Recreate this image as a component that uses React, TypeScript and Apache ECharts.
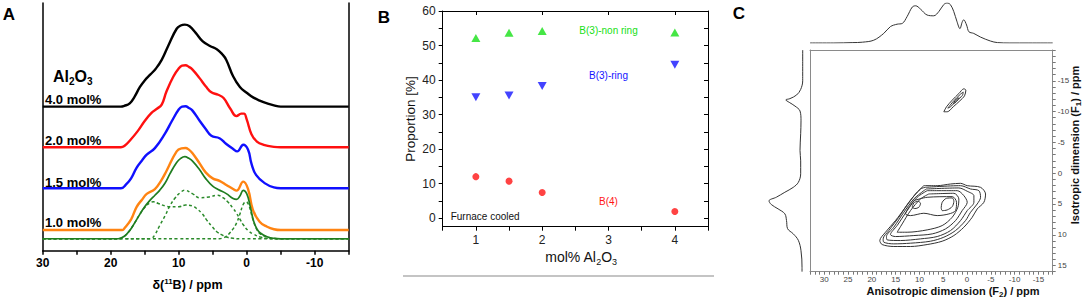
import React, { useEffect, useRef } from "react";
import * as echarts from "echarts";

const FONT = "'Liberation Sans', Arial, Helvetica, sans-serif";

// ---------- Panel A: 11B MAS spectra, [ppm, normalised intensity] ----------
const A_SPEC_40 = [[30,0],[26,0],[22,0],[20,0],[19,0],[18.5,0],[18,0.01],[17.2,0.04],[16.5,0.12],[15.7,0.24],[15,0.32],[14.2,0.39],[13.4,0.46],[12.5,0.57],[11.5,0.75],[10.3,0.95],[9.7,0.99],[9.1,1.0],[8.4,0.98],[7.5,0.9],[6.5,0.8],[5.4,0.74],[4.4,0.7],[3.6,0.64],[3,0.57],[2,0.37],[1,0.24],[0,0.17],[-1,0.11],[-2,0.07],[-3,0.04],[-4,0.015],[-5,0],[-6,0],[-8,0],[-11,0],[-15,0]];
const A_SPEC_20 = [[30,0],[26,0],[22,0],[20,0],[19,0],[18.5,0],[18,0.015],[17.2,0.08],[16,0.2],[15,0.32],[14,0.42],[13.2,0.47],[12.5,0.52],[11.8,0.68],[10.8,0.86],[10,0.96],[9.5,0.995],[9.0,1.0],[8.5,0.98],[8,0.95],[6.9,0.84],[6,0.74],[5.2,0.67],[4.2,0.64],[3.4,0.6],[2.4,0.47],[1.5,0.38],[0.8,0.41],[0.4,0.41],[0,0.34],[-0.7,0.16],[-1.5,0.07],[-2.5,0.03],[-4,0.005],[-5,0],[-6,0],[-8,0],[-11,0],[-15,0]];
const A_SPEC_15 = [[30,0],[26,0],[22,0],[20,0],[19,0],[18.5,0],[17.7,0.05],[17,0.12],[16.2,0.25],[15.4,0.34],[14.7,0.41],[13.5,0.49],[12,0.67],[11,0.82],[10,0.96],[9.5,0.995],[9.0,1.0],[8.5,0.98],[8,0.95],[6.9,0.82],[6,0.72],[5.2,0.64],[4,0.61],[3,0.54],[2,0.48],[1.4,0.45],[0.5,0.53],[-0.2,0.47],[-0.7,0.3],[-1.4,0.16],[-2.7,0.06],[-4,0.01],[-5,0],[-6,0],[-8,0],[-11,0],[-15,0]];
const A_SPEC_10 = [[30,0],[26,0],[22,0],[20,0],[19,0],[18.3,0],[17.9,0.03],[17,0.13],[16.2,0.28],[15.4,0.37],[14.7,0.44],[13.5,0.5],[12.6,0.6],[11.8,0.72],[10.3,0.96],[9.6,0.995],[9.0,1.0],[8.5,0.98],[8,0.94],[6.9,0.81],[6,0.7],[5,0.63],[4,0.6],[3,0.55],[2,0.5],[1.5,0.48],[0.5,0.59],[-0.2,0.5],[-0.9,0.25],[-1.9,0.1],[-3,0.04],[-4,0.01],[-5,0],[-6,0],[-8,0],[-11,0],[-15,0]];
const A_FIT_SUM = [[30,0],[26,0],[22,0],[20,0],[19.4,0],[18.9,0],[18,0.03],[17.2,0.1],[16.5,0.19],[15.7,0.3],[15,0.39],[14.2,0.47],[13.5,0.53],[12.8,0.59],[12,0.68],[11.3,0.79],[10.3,0.93],[9.7,0.98],[9.1,1.0],[8.5,0.98],[8,0.95],[7,0.85],[6,0.73],[5,0.64],[4.2,0.6],[3,0.55],[2,0.49],[1.5,0.48],[1,0.52],[0.5,0.59],[0,0.55],[-0.5,0.4],[-1,0.22],[-1.5,0.12],[-2,0.07],[-3,0.025],[-4,0.005],[-5,0],[-6,0],[-8,0],[-11,0],[-15,0]];
const A_FIT_RING = [[30,0],[26,0],[22,0],[20,0],[19.4,0],[18.9,0],[18,0.03],[17.2,0.1],[16.5,0.19],[15.7,0.3],[15,0.38],[14.2,0.44],[13.7,0.45],[13,0.43],[12,0.4],[11.3,0.39],[10,0.39],[9,0.41],[8,0.4],[7.4,0.37],[6.5,0.3],[5.9,0.23],[5,0.14],[4.4,0.085],[3.5,0.04],[3,0.02],[2,0.005],[1,0],[0,0],[-2,0],[-5,0],[-8,0],[-11,0],[-15,0]];
const A_FIT_NONRING = [[30,0],[26,0],[22,0],[18,0],[16,0],[15,0],[14.4,0],[14,0.005],[13.5,0.05],[12.8,0.16],[12,0.28],[11.3,0.4],[10.5,0.5],[9.8,0.56],[9.1,0.59],[8,0.55],[6.9,0.5],[5.5,0.51],[4.3,0.53],[3.5,0.5],[2.8,0.45],[2,0.37],[1.5,0.31],[1,0.24],[0.5,0.17],[-0.2,0.1],[-0.9,0.06],[-2,0.02],[-3,0.005],[-4,0],[-5,0],[-8,0],[-11,0],[-15,0]];
const A_FIT_B4 = [[30,0],[26,0],[22,0],[18,0],[14,0],[10,0],[7,0],[5.5,0],[4.5,0],[4,0],[3.5,0.01],[3,0.03],[2.5,0.07],[2,0.12],[1.5,0.19],[1,0.3],[0.5,0.42],[0.1,0.45],[-0.3,0.41],[-0.9,0.24],[-1.5,0.11],[-2,0.06],[-3,0.02],[-4,0.005],[-5,0],[-6,0],[-8,0],[-11,0],[-15,0]];
// vertical stacking offsets of the traces (same units as intensity)
const A_OFFSETS = [1.756, 1.261, 0.761, 0.252, 0.146]; // 4.0, 2.0, 1.5, 1.0 mol%, fit
const A_LABELS = ["4.0 mol%", "2.0 mol%", "1.5 mol%", "1.0 mol%"];

// ---------- Panel B: proportions ----------
const B_X = [1, 1.5, 2, 4];
const B_NONRING = [52.2, 53.7, 54.2, 53.8];
const B_RING = [35.0, 35.5, 38.3, 44.4];
const B_B4 = [12.0, 10.7, 7.4, 1.9];
const B_Y_LABELS = [0, 10, 20, 30, 40, 50, 60];
const B_Y_TICKS = [0, 5, 10, 15, 20, 25, 30, 35, 40, 45, 50, 55, 60];
const B_X_TOP_TICKS = [1, 2, 3, 4];
const B_NOTES = [
  { text: "B(3)-non ring", x: 3.0, y: 54.3 },
  { text: "B(3)-ring", x: 3.0, y: 41.2 },
  { text: "B(4)", x: 3.0, y: 4.7 },
  { text: "Furnace cooled", x: 1.14, y: 0.6 },
];

// ---------- Panel C: MQMAS, [F2 ppm, F1 ppm] contours ----------
const C_CONT_1 = [[9.08,2.03],[6.27,2.03],[3.47,1.76],[1.37,1.65],[-0.04,2.03],[-2.84,2.3],[-3.89,3.38],[-3.54,4.73],[-2.14,5.81],[-1.09,7.16],[0.67,8.78],[2.77,10.13],[5.22,11.05],[8.38,11.59],[11.88,11.91],[15.39,11.91],[17.84,11.59],[18.33,10.94],[17.14,9.59],[15.04,7.7],[12.93,5.54],[10.83,3.38]];
const C_CONT_2 = [[8.73,2.3],[1.37,2.03],[-0.74,2.57],[-2.49,2.84],[-2.84,3.92],[-2.14,5.0],[-0.74,6.35],[0.32,7.7],[2.42,9.32],[4.87,10.4],[7.68,11.05],[11.88,11.37],[15.39,11.48],[17.49,11.21],[17.63,10.67],[16.44,9.32],[14.34,7.16],[12.23,4.73],[9.78,2.57]];
const C_CONT_3 = [[8.52,2.57],[1.72,2.4],[-0.04,2.94],[-1.44,3.65],[-1.44,4.73],[-0.04,6.08],[1.37,7.7],[3.47,9.32],[6.27,10.29],[9.78,10.67],[13.99,10.94],[16.79,10.83],[16.93,10.29],[15.39,8.78],[13.28,6.35],[11.18,4.19],[9.08,2.84]];
const C_CONT_4 = [[8.38,2.84],[2.07,2.84],[0.67,3.65],[-0.04,4.73],[1.02,6.08],[2.42,7.7],[4.52,9.05],[7.32,9.86],[11.18,10.13],[15.04,10.29],[16.09,9.97],[14.69,8.51],[12.58,6.08],[10.48,3.92]];
const C_CONT_5 = [[8.03,3.38],[2.77,3.27],[1.72,4.19],[1.93,5.54],[3.12,7.16],[5.22,8.51],[8.38,9.21],[12.58,9.59],[14.69,9.59],[13.63,8.24],[11.88,6.08],[9.78,4.19]];
const C_CONT_6 = [[11.18,4.46],[8.38,3.92],[3.12,3.81],[2.21,4.73],[2.42,6.08],[3.82,6.62],[6.27,6.89],[9.08,6.51],[11.88,6.89],[12.93,6.62],[12.23,5.54]];
const C_ISLAND_1 = [[11.53,5.54],[11.18,4.83],[10.34,4.57],[9.78,4.89],[10.13,5.54],[10.97,5.75]];
const C_ISLAND_2 = [[5.43,5.65],[5.22,4.73],[4.31,4.08],[3.12,4.02],[2.77,4.57],[3.12,5.43],[4.17,5.97],[5.22,6.08]];
const C_SMALL_1 = [[4.88,-9.97],[4.31,-10.78],[3.11,-11.86],[1.72,-12.93],[0.67,-13.7],[0.25,-13.48],[0.53,-12.56],[1.51,-11.75],[2.9,-10.78],[4.16,-9.97]];
const C_SMALL_2 = [[4.04,-10.56],[2.78,-11.75],[1.37,-12.83],[0.8,-13.16],[1.0,-12.6],[2.06,-11.86],[3.47,-10.78]];
const C_SMALL_3 = [[2.9,-11.3],[1.93,-12.19],[1.64,-12.19],[2.48,-11.43]];
const C_CONTOURS = [C_CONT_1, C_CONT_2, C_CONT_3, C_CONT_4, C_CONT_5, C_CONT_6, C_ISLAND_1, C_ISLAND_2, C_SMALL_1, C_SMALL_2, C_SMALL_3];
// projections
const C_TOP_PROJ = [[33,0],[28,0],[24,0.01],[22,0.02],[19.6,0.07],[17.5,0.24],[16.1,0.41],[14.7,0.47],[13.6,0.49],[12.6,0.66],[11.5,0.9],[10.8,0.93],[9.8,0.85],[8.4,0.7],[7.0,0.68],[5.9,0.79],[4.9,0.96],[4.2,1.0],[3.5,0.96],[2.8,0.79],[2.1,0.53],[1.5,0.36],[1.0,0.53],[0.7,0.58],[0.1,0.45],[-0.4,0.28],[-1.4,0.24],[-2.8,0.15],[-4.9,0.05],[-6.4,0.01],[-9,0],[-13,0],[-18,0]];
const C_LEFT_PROJ = [[0,-20],[0,-15],[0.06,-13.6],[0.18,-12.7],[0.38,-12.1],[0.5,-11.9],[0.4,-11.5],[0.23,-10.9],[0.08,-10.1],[0.05,-8.5],[0.06,-6.4],[0.08,-3.7],[0.06,-2.0],[0.06,0.1],[0.13,1.5],[0.28,2.3],[0.53,3.1],[0.78,3.9],[1.0,4.5],[0.93,5.1],[0.73,5.8],[0.53,6.6],[0.48,7.7],[0.45,9.0],[0.28,9.85],[0.13,10.9],[0.05,12.6],[0.02,15.3],[0.02,16]];

const NOTE_COLORS = ["#16e016", "#1414ff", "#ff1414", "#111"];

function buildOption() {
  const aLine = (data: number[][], off: number, color: string, width: number, dashed = false) => ({
    type: "line",
    xAxisIndex: 0,
    yAxisIndex: 0,
    data: data.map(([p, v]) => [p, off + v]),
    smooth: 0.45,
    symbol: "none",
    silent: true,
    lineStyle: { color, width, type: dashed ? [3, 2.5] : "solid" },
  });
  const green = "#2a8a2a";
  const series: any[] = [
    aLine(A_SPEC_40, A_OFFSETS[0], "#000000", 2.4),
    aLine(A_SPEC_20, A_OFFSETS[1], "#ff1010", 2.4),
    aLine(A_SPEC_15, A_OFFSETS[2], "#1010ff", 2.4),
    aLine(A_SPEC_10, A_OFFSETS[3], "#ff8412", 2.4),
    aLine(A_FIT_RING, A_OFFSETS[4], green, 1.5, true),
    aLine(A_FIT_NONRING, A_OFFSETS[4], green, 1.5, true),
    aLine(A_FIT_B4, A_OFFSETS[4], green, 1.5, true),
    aLine(A_FIT_SUM, A_OFFSETS[4], "#1f7d1f", 1.7),
    {
      type: "scatter", xAxisIndex: 2, yAxisIndex: 2, symbol: "triangle", symbolSize: [9, 8],
      itemStyle: { color: "#16e016" }, data: B_X.map((x, i) => [x, B_NONRING[i]]),
    },
    {
      type: "scatter", xAxisIndex: 2, yAxisIndex: 2, symbol: "triangle", symbolRotate: 180, symbolSize: [9, 8],
      itemStyle: { color: "#1414ff" }, data: B_X.map((x, i) => [x, B_RING[i]]),
    },
    {
      type: "scatter", xAxisIndex: 2, yAxisIndex: 2, symbol: "circle", symbolSize: 7,
      itemStyle: { color: "#ff1414" }, data: B_X.map((x, i) => [x, B_B4[i]]),
    },
    ...C_CONTOURS.map((c) => ({
      type: "line", xAxisIndex: 4, yAxisIndex: 4, data: [...c, c[0]], smooth: 0.3, symbol: "none", silent: true,
      lineStyle: { color: "#333", width: 1 },
    })),
    {
      type: "line", xAxisIndex: 6, yAxisIndex: 6, data: C_TOP_PROJ, smooth: 0.35, symbol: "none", silent: true,
      lineStyle: { color: "#333", width: 1 },
    },
    {
      type: "line", xAxisIndex: 7, yAxisIndex: 7, data: C_LEFT_PROJ, smooth: 0.35, symbol: "none", silent: true,
      lineStyle: { color: "#333", width: 1 },
    },
  ];

  const blk = { color: "#000", width: 1.5 };
  const hidden = { show: false };
  const line = (color: string, width: number) => ({ show: true, onZero: false, lineStyle: { color, width } });
  const xAxis: any[] = [
    // 0: panel A
    {
      gridIndex: 0, type: "value", min: -15, max: 30, interval: 5, inverse: true, position: "bottom",
      axisLine: { show: true, onZero: false, lineStyle: blk }, axisTick: { show: true, length: 4, lineStyle: blk },
      axisLabel: {
        margin: 6, fontSize: 12, fontWeight: "bold", color: "#000", fontFamily: FONT,
        formatter: (v: number) => (v % 10 === 0 ? String(v) : ""),
      },
      splitLine: hidden,
    },
    // 1: panel A (unused spare)
    { gridIndex: 0, type: "value", min: -15, max: 30, inverse: true, show: false },
    // 2: panel B bottom
    {
      gridIndex: 1, type: "value", min: 0.5, max: 4.5, interval: 0.5, position: "bottom",
      axisLine: line("#000", 1),
      axisTick: { show: true, length: 4, lineStyle: { color: "#000" } },
      axisLabel: {
        margin: 7, fontSize: 12, color: "#222", fontFamily: FONT,
        formatter: (v: number) => (Number.isInteger(v) ? String(v) : ""),
      },
      splitLine: hidden,
    },
    // 3: panel B top
    {
      gridIndex: 1, type: "value", min: 0.5, max: 4.5, position: "top",
      axisLine: line("#000", 1),
      axisTick: { show: true, inside: true, length: 4, customValues: B_X_TOP_TICKS, lineStyle: { color: "#000" } },
      axisLabel: { show: false }, splitLine: hidden,
    },
    // 4: panel C bottom
    {
      gridIndex: 2, type: "value", min: -18, max: 33, interval: 1, inverse: true, position: "bottom",
      axisLine: line("#8a8a8a", 1),
      axisTick: { show: true, length: 3, lineStyle: { color: "#777" } },
      axisLabel: {
        margin: 4, fontSize: 8, color: "#444", fontFamily: FONT,
        formatter: (v: number) => (v % 5 === 0 && v >= -15 && v <= 30 ? String(v) : ""),
      },
      splitLine: hidden,
    },
    // 5: panel C top
    {
      gridIndex: 2, type: "value", min: -18, max: 33, inverse: true, position: "top",
      axisLine: line("#8a8a8a", 1),
      axisTick: hidden, axisLabel: hidden, splitLine: hidden,
    },
    // 6: C top projection
    { gridIndex: 3, type: "value", min: -18, max: 33, inverse: true, show: false },
    // 7: C left projection
    { gridIndex: 4, type: "value", min: 0, max: 1, inverse: true, show: false },
  ];

  const yAxis: any[] = [
    {
      gridIndex: 0, type: "value", min: 0, max: 3.02, position: "left",
      axisLine: { show: true, onZero: false, lineStyle: blk }, axisTick: hidden, axisLabel: hidden, splitLine: hidden,
    },
    {
      gridIndex: 0, type: "value", min: 0, max: 3.02, position: "right",
      axisLine: { show: true, onZero: false, lineStyle: blk }, axisTick: hidden, axisLabel: hidden, splitLine: hidden,
    },
    {
      gridIndex: 1, type: "value", min: -2.5, max: 60, position: "left",
      axisLine: line("#000", 1),
      axisTick: { show: true, length: 4, customValues: B_Y_TICKS, lineStyle: { color: "#000" } },
      axisLabel: { customValues: B_Y_LABELS, margin: 7, fontSize: 12, color: "#222", fontFamily: FONT },
      splitLine: hidden,
    },
    {
      gridIndex: 1, type: "value", min: -2.5, max: 60, position: "right",
      axisLine: line("#000", 1),
      axisTick: { show: true, inside: true, length: 4, customValues: B_Y_TICKS, lineStyle: { color: "#000" } },
      axisLabel: hidden, splitLine: hidden,
    },
    {
      gridIndex: 2, type: "value", min: -20, max: 16, interval: 1, inverse: true, position: "right",
      axisLine: line("#8a8a8a", 1),
      axisTick: { show: true, length: 3, lineStyle: { color: "#777" } },
      axisLabel: {
        margin: 5, fontSize: 8, color: "#444", fontFamily: FONT,
        formatter: (v: number) => (v % 5 === 0 && v >= -15 && v <= 15 ? String(v) : ""),
      },
      splitLine: hidden,
    },
    {
      gridIndex: 2, type: "value", min: -20, max: 16, inverse: true, position: "left",
      axisLine: line("#8a8a8a", 1),
      axisTick: hidden, axisLabel: hidden, splitLine: hidden,
    },
    { gridIndex: 3, type: "value", min: 0, max: 1, show: false },
    { gridIndex: 4, type: "value", min: -20, max: 16, inverse: true, show: false },
  ];

  const g = (l: number, t: number, w: number, h: number) => ({
    left: l, top: t, width: w, height: h, containLabel: false, outerBoundsMode: "none",
  });

  const txt = (x: number, y: number, text: string, extra: any = {}, rotation = 0) => ({
    type: "text", x, y, rotation, silent: true,
    style: { text, fontFamily: FONT, fill: "#000", align: "center", verticalAlign: "middle", ...extra },
  });

  const graphic: any[] = [
    txt(9, 14, "A", { fontSize: 17, fontWeight: "bold" }),
    txt(384, 17, "B", { fontSize: 17, fontWeight: "bold" }),
    txt(739, 13, "C", { fontSize: 17, fontWeight: "bold" }),
    txt(53, 76, "{a|Al}{s|2}{a|O}{s|3}", {
      align: "left",
      rich: {
        a: { fontSize: 16, fontWeight: "bold", fontFamily: FONT, fill: "#000", lineHeight: 21 },
        s: { fontSize: 10, fontWeight: "bold", fontFamily: FONT, fill: "#000", verticalAlign: "bottom", lineHeight: 12 },
      },
    }),
    ...A_LABELS.map((t, i) => txt(45, [99.5, 140.7, 182.3, 222][i], t, { align: "left", fontSize: 13, fontWeight: "bold" })),
    txt(187.5, 285, "{a|δ(}{u|11}{a|B) / ppm}", {
      rich: {
        a: { fontSize: 12.5, fontWeight: "bold", fontFamily: FONT, fill: "#000", lineHeight: 16 },
        u: { fontSize: 8, fontWeight: "bold", fontFamily: FONT, fill: "#000", verticalAlign: "top", lineHeight: 9 },
      },
    }),
    txt(410, 119, "Proportion [%]", { fontSize: 13.5, fill: "#111" }, Math.PI / 2),
    txt(581, 257, "{a|mol% Al}{s|2}{a|O}{s|3}", {
      rich: {
        a: { fontSize: 14, fontFamily: FONT, fill: "#111", lineHeight: 19 },
        s: { fontSize: 9, fontFamily: FONT, fill: "#111", verticalAlign: "bottom", lineHeight: 11 },
      },
    }),
    {
      type: "line", silent: true, shape: { x1: 403, y1: 276, x2: 714, y2: 276 },
      style: { stroke: "#b0b0b0", lineWidth: 1.5 },
    },
    txt(953, 291, "{a|Anisotropic dimension (F}{s|2}{a|) / ppm}", {
      rich: {
        a: { fontSize: 11, fontWeight: "bold", fontFamily: FONT, fill: "#111", lineHeight: 14 },
        s: { fontSize: 8, fontWeight: "bold", fontFamily: FONT, fill: "#111", verticalAlign: "bottom", lineHeight: 9 },
      },
    }),
    txt(1075, 145, "{a|Isotropic dimension (F}{s|1}{a|) / ppm}", {
      rich: {
        a: { fontSize: 11, fontWeight: "bold", fontFamily: FONT, fill: "#111", lineHeight: 14 },
        s: { fontSize: 8, fontWeight: "bold", fontFamily: FONT, fill: "#111", verticalAlign: "bottom", lineHeight: 9 },
      },
    }, Math.PI / 2),
  ];

  return {
    animation: false,
    backgroundColor: "#ffffff",
    textStyle: { fontFamily: FONT },
    grid: [
      g(42.7, 3, 306, 247.7),
      g(442.7, 11, 265.3, 215.7),
      g(810, 50, 242.7, 221.7),
      g(810, 3, 242.7, 40),
      g(769, 50, 33.7, 221.7),
    ],
    xAxis,
    yAxis,
    series,
    graphic,
  };
}

export default function App() {
  const ref = useRef<HTMLDivElement>(null);
  useEffect(() => {
    if (!ref.current) return;
    const chart = echarts.init(ref.current, undefined, { renderer: "svg" });
    const option: any = buildOption();
    chart.setOption(option);
    // place panel-B annotations through the panel's own scales
    const notes = B_NOTES.map((n, i) => {
      const p = chart.convertToPixel({ xAxisIndex: 2, yAxisIndex: 2 } as any, [n.x, n.y]) as number[];
      return {
        type: "text", x: p[0], y: p[1], silent: true,
        style: {
          text: n.text, fontFamily: FONT, fontSize: 10, fill: NOTE_COLORS[i],
          align: "center", verticalAlign: "middle",
        },
      };
    });
    chart.setOption({ graphic: [...option.graphic, ...notes] });
    return () => chart.dispose();
  }, []);
  return (
    <div
      ref={ref}
      style={{ position: "fixed", left: 0, top: 0, width: 1084, height: 300, background: "#fff" }}
    />
  );
}
